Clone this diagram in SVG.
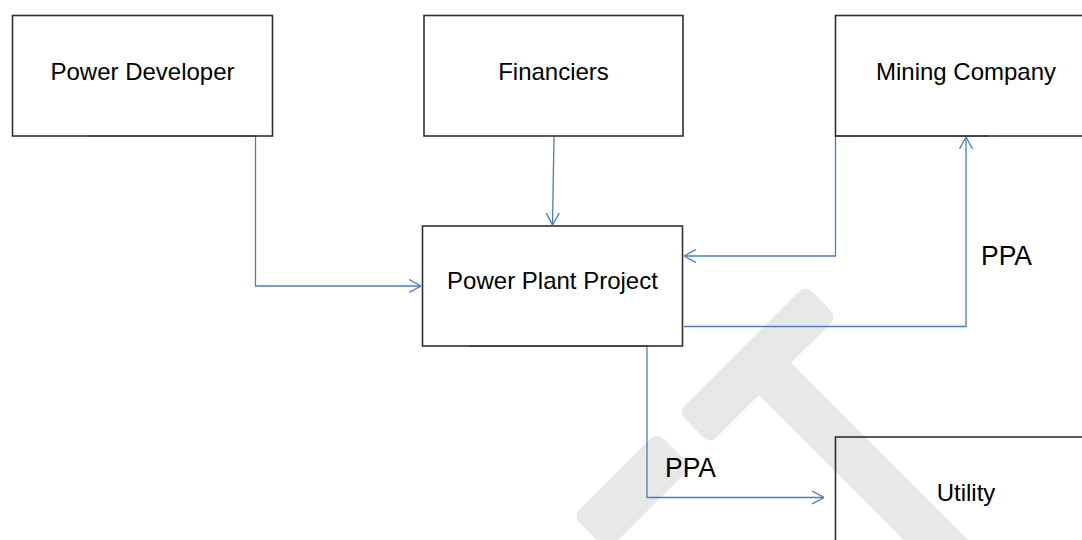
<svg xmlns="http://www.w3.org/2000/svg" width="1082" height="540" viewBox="0 0 1082 540">
  <defs>
    <style>
      .box { fill: none; stroke: #303030; stroke-width: 1.6; }
      .lbl { font-family: "Liberation Sans", Arial, sans-serif; font-size: 24px; fill: #000; text-anchor: middle; }
      .ppa { font-family: "Liberation Sans", Arial, sans-serif; font-size: 28px; fill: #000; }
      .conn { fill: none; stroke: #4a7ebb; stroke-width: 1.3; }
      .wm { fill: #e8e8e8; }
    </style>
    <marker id="arrow" viewBox="0 0 12 14" refX="12" refY="7" markerWidth="12" markerHeight="14" markerUnits="userSpaceOnUse" orient="auto">
      <path d="M0,0.5 L12,7 L0,13.5" fill="none" stroke="#4a7ebb" stroke-width="1.3"/>
    </marker>
  </defs>
  <rect width="1082" height="540" fill="#ffffff"/>

  <g id="watermark" transform="rotate(-45)">
    <rect class="wm" x="188" y="771" width="180" height="45" rx="9"/>
    <rect class="wm" x="40" y="770" width="119" height="49" rx="9"/>
    <rect class="wm" x="257" y="805" width="46" height="520"/>
  </g>

  <g id="connectors">
    <path class="conn" d="M88,136 H255.5 V286 H421" marker-end="url(#arrow)"/>
    <path class="conn" d="M554,136 L552.5,225" marker-end="url(#arrow)"/>
    <path class="conn" d="M988,136 H835.5 V256 H684" marker-end="url(#arrow)"/>
    <path class="conn" d="M684,326.5 H966 V137" marker-end="url(#arrow)"/>
    <path class="conn" d="M470,346 H647 V497.5 H824" marker-end="url(#arrow)"/>
  </g>

  <g id="power-developer">
    <rect class="box" x="12.5" y="15.5" width="260" height="120.5"/>
    <text class="lbl" x="142.5" y="80">Power Developer</text>
  </g>
  <g id="financiers">
    <rect class="box" x="424" y="15.5" width="259" height="120.5"/>
    <text class="lbl" x="553.5" y="80">Financiers</text>
  </g>
  <g id="mining-company">
    <rect class="box" x="835.5" y="15.5" width="261" height="120.5"/>
    <text class="lbl" x="966" y="80">Mining Company</text>
  </g>
  <g id="power-plant-project">
    <rect class="box" x="422.5" y="226" width="260" height="120"/>
    <text class="lbl" x="552.5" y="289">Power Plant Project</text>
  </g>
  <g id="utility">
    <rect class="box" x="835.5" y="437" width="261" height="120"/>
    <text class="lbl" x="966" y="501">Utility</text>
  </g>

  <g id="labels">
    <text class="ppa" x="981" y="265" textLength="51" lengthAdjust="spacingAndGlyphs">PPA</text>
    <text class="ppa" x="665" y="477" textLength="51" lengthAdjust="spacingAndGlyphs">PPA</text>
  </g>
</svg>
